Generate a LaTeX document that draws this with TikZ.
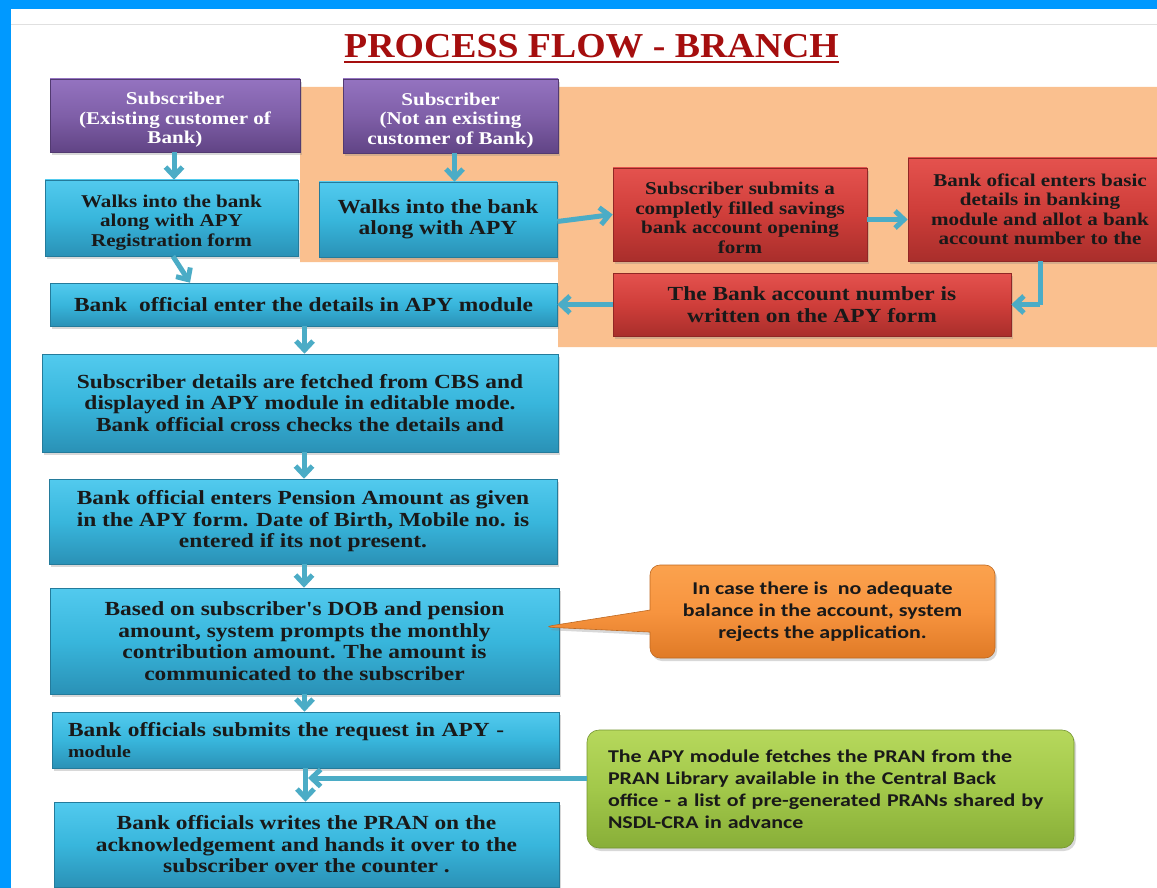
\documentclass[tikz,border=0pt]{standalone}
\usepackage{fontspec}
\usetikzlibrary{arrows.meta,shadows,shapes.callouts,calc}
\newfontfamily\boxfont{Liberation Serif}[FakeStretch=1.17]
\newfontfamily\titlefont{Liberation Serif}[FakeStretch=1.08]
\newfontfamily\calfont{Carlito}[FakeStretch=1.22]
\definecolor{frameblue}{HTML}{0099FF}
\definecolor{titlered}{HTML}{A50E0E}
\definecolor{bgorange}{HTML}{FAC08F}
\definecolor{arrowblue}{HTML}{4BACC6}
\definecolor{blT}{HTML}{52CAEE}
\definecolor{blM}{HTML}{38B6DC}
\definecolor{blB}{HTML}{2A91B6}
\definecolor{puT}{HTML}{9473C0}
\definecolor{puM}{HTML}{7F5FA8}
\definecolor{puB}{HTML}{614485}
\definecolor{reT}{HTML}{E4524E}
\definecolor{reM}{HTML}{CF3E3A}
\definecolor{reB}{HTML}{A92E2B}
\definecolor{orT}{HTML}{FBA24E}
\definecolor{orM}{HTML}{F7943F}
\definecolor{orB}{HTML}{E07A26}
\definecolor{grT}{HTML}{B6D85C}
\definecolor{grM}{HTML}{A2C84A}
\definecolor{grB}{HTML}{88AE38}
\tikzset{
  box/.style={rectangle, inner sep=3pt, align=center, line width=.6pt,
    drop shadow={shadow xshift=2pt, shadow yshift=-3pt, opacity=.3}},
  bigtext/.style={font=\boxfont\bfseries\fontsize{20}{21.5}\selectfont},
  smalltext/.style={font=\boxfont\bfseries\fontsize{18}{19.5}\selectfont},
  bluebox/.style={box, top color=blT, bottom color=blB, middle color=blM,
    draw=blB!85!black, text=black!90, bigtext},
  purplebox/.style={box, top color=puT, bottom color=puB, middle color=puM,
    draw=puB!85!black, text=white, smalltext},
  redbox/.style={box, top color=reT, bottom color=reB, middle color=reM,
    draw=reB!85!black, text=black!90, smalltext},
  calltext/.style={font=\calfont\bfseries\fontsize{18}{22}\selectfont, text=black!90},
  arr/.style={draw=arrowblue, line width=5pt,
    -{Straight Barb[length=9pt,width=17pt]}},
}
\begin{document}
\begin{tikzpicture}[x=1pt,y=-1pt]
\useasboundingbox (0,0) rectangle (1157,888);
\begin{scope}
\clip (0,0) rectangle (1157,888);
\fill[white] (0,0) rectangle (1157,888);
\fill[frameblue] (0,0) rectangle (1157,9);
\fill[frameblue] (0,0) rectangle (11,888);
\draw[black!12, line width=1pt] (11,25) -- (1157,25);

% title
\node[inner sep=0pt, anchor=base, text=titlered,
  font=\titlefont\bfseries\fontsize{35}{40}\selectfont] (title) at (591.5,58) {PROCESS FLOW - BRANCH};
\draw[titlered, line width=2pt] ([yshift=-4pt]title.base west) -- ([yshift=-4pt]title.base east);

% orange background
\fill[bgorange] (300,87) -- (1157,87) -- (1157,347) -- (558,347) -- (558,262) -- (300,262) -- cycle;

% top row
\node[purplebox, minimum width=250pt, minimum height=73pt] (p1) at (175,115.5)
  {\rule{0pt}{21pt}Subscriber\\(Existing customer of\\Bank)};
\node[purplebox, minimum width=215pt, minimum height=74pt] (p2) at (450.5,116)
  {\rule{0pt}{21pt}Subscriber\\(Not an existing\\customer of Bank)};
\node[bluebox, smalltext, minimum width=253pt, minimum height=76pt] (w1) at (171.5,218)
  {\rule{0pt}{21pt}Walks into the bank\\along with APY\\Registration form};
\node[bluebox, minimum width=238pt, minimum height=75pt] (w2) at (438,219.5)
  {Walks into the bank\\along with APY};
\node[redbox, minimum width=254pt, minimum height=93pt] (r1) at (740,214.5)
  {\rule{0pt}{19pt}Subscriber submits a\\completly filled savings\\bank account opening\\form};
\node[redbox, minimum width=264pt, minimum height=103pt] (r2) at (1040,209.5)
  {Bank ofical enters basic\\details in banking\\module and allot a bank\\account number to the};
\node[redbox, bigtext, minimum width=398pt, minimum height=63pt] (r3) at (812,304.5)
  {The Bank account number is\\written on the APY form};

% main column
\node[bluebox, minimum width=507pt, minimum height=43pt] (b1) at (303.5,304.5)
  {Bank\ \ official enter the details in APY module};
\node[bluebox, minimum width=516pt, minimum height=98pt] (b2) at (300,403)
  {Subscriber details are fetched from CBS and\\displayed in APY module in editable mode.\\Bank official cross checks the details and};
\node[bluebox, minimum width=508pt, minimum height=85pt] (b3) at (303,521.5)
  {Bank official enters Pension Amount as given\\in the APY form. Date of Birth, Mobile no. is\\entered if its not present.};
\node[bluebox, minimum width=509pt, minimum height=106pt] (b4) at (304.5,641)
  {Based on subscriber's DOB and pension\\amount, system prompts the monthly\\contribution amount. The amount is\\communicated to the subscriber};
\node[bluebox, minimum width=507pt, minimum height=56pt, align=left,
  text width=475pt] (b5) at (305.5,740)
  {Bank officials submits the request in APY -\\{\fontsize{17}{19}\selectfont module}};
\node[bluebox, minimum width=505pt, minimum height=85pt] (b6) at (306.5,844.5)
  {Bank officials writes the PRAN on the\\acknowledgement and hands it over to the\\subscriber over the counter .};

% callouts
\node[rectangle callout, rounded corners=10pt, calltext, align=center,
  top color=orT, bottom color=orB, middle color=orM, draw=orB!85!black, line width=.6pt,
  minimum width=345pt, minimum height=93pt,
  callout absolute pointer={(543,627)}, callout pointer width=22pt,
  drop shadow={shadow xshift=2pt, shadow yshift=-3pt, opacity=.3}] (oc) at (822.5,611.5)
  {In case there is\ \ no adequate\\balance in the account, system\\rejects the application.};
\node[rectangle, rounded corners=12pt, calltext, align=left, text width=445pt,
  top color=grT, bottom color=grB, middle color=grM, draw=grB!85!black, line width=.6pt,
  minimum width=487pt, minimum height=118pt,
  drop shadow={shadow xshift=2pt, shadow yshift=-3pt, opacity=.3}] (gr) at (830.5,789)
  {The APY module fetches the PRAN from the\\PRAN Library available in the Central Back\\office - a list of pre-generated PRANs shared by\\NSDL-CRA in advance};

\coordinate (join) at (308,778);

% arrows
\draw[arr] ([xshift=-1pt]p1.south) -- ([xshift=-1pt]p1.south |- w1.north);
\draw[arr] ([xshift=4pt]p2.south) -- ([xshift=4pt]p2.south |- w2.north);
\draw[arr] ([xshift=1.5pt]w1.south) -- ([xshift=-113.5pt]b1.north);
\draw[arr] ([yshift=-2pt]w2.east) -- (r1.west);
\draw[arr] ([yshift=-5pt]r1.east) -- ([yshift=-5pt]r1.east -| r2.west);
\draw[arr, -] (r2.south) -- (r2.south |- r3.east);
\draw[arr] (r2.south |- r3.east) -- (r3.east);
\draw[arr] (r3.west) -- (b1.east);
\draw[arr] ([xshift=1pt]b1.south) -- ([xshift=1pt]b1.south |- b2.north);
\draw[arr] ([xshift=4pt]b2.south) -- ([xshift=4pt]b2.south |- b3.north);
\draw[arr] ([xshift=1pt]b3.south) -- ([xshift=1pt]b3.south |- b4.north);
\draw[arr] (b4.south) -- (b4.south |- b5.north);
\draw[arr] (b5.south) -- (b5.south |- b6.north);
\draw[arr] ([yshift=11pt]gr.west) -- (join);
\end{scope}
\end{tikzpicture}
\end{document}
